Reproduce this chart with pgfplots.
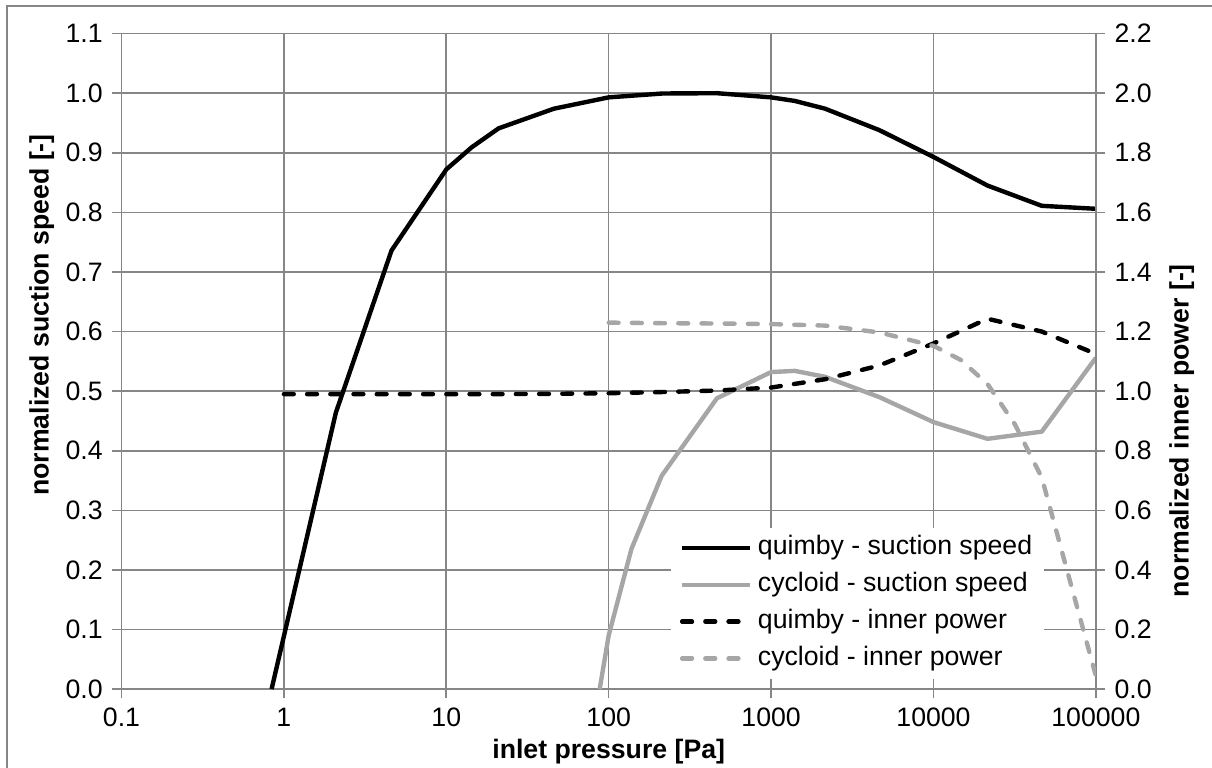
\documentclass[border=0pt]{standalone}
\usepackage{fontspec}
\setmainfont{Liberation Sans}
\usepackage{pgfplots}
\usepackage{pgfplotstable}
\pgfplotsset{compat=1.18}
\definecolor{gridgray}{RGB}{134,134,134}
\definecolor{lgray}{RGB}{166,166,166}

\pgfplotstableread{
x y
0.84 0
2.09 0.464
4.6 0.736
10 0.872
14.3 0.909
21 0.941
46 0.974
100 0.993
215 0.9995
464 1.0
1000 0.993
1400 0.987
2150 0.974
4640 0.938
10000 0.893
21500 0.845
46400 0.811
100000 0.806
}\quimbyS

\pgfplotstableread{
x y
88 0
100 0.09
138 0.235
212 0.358
464 0.488
1000 0.532
1400 0.534
2150 0.524
4640 0.49
10000 0.448
21500 0.42
46400 0.432
100000 0.556
}\cycloidS

\pgfplotstableread{
x y
1 0.99
2.15 0.99
4.64 0.99
10 0.99
21.5 0.99
46.4 0.991
100 0.993
215 0.997
464 1.002
1000 1.012
2150 1.04
4640 1.086
10000 1.16
21500 1.243
46400 1.2
100000 1.125
}\quimbyP

\pgfplotstableread{
x y
100 1.23
215 1.228
464 1.227
1000 1.225
2150 1.22
4640 1.197
10000 1.152
14700 1.105
21500 1.024
31600 0.89
46400 0.71
100000 0.044
}\cycloidP

\begin{document}
\begin{tikzpicture}
\useasboundingbox (-45.56pt,-29.25pt) rectangle (408.94pt,258.4pt);
\begin{axis}[
  scale only axis, width=365.4pt, height=245.8pt,
  xmode=log, xmin=0.1, xmax=100000,
  axis line style={gridgray, line width=0.6pt},
  tick style={gridgray, line width=0.6pt},
  tick align=outside, major tick length=3.5pt,
  minor tick num=0, xminorticks=false,
  /pgf/number format/assume math mode=true,
  yticklabel style={/pgf/number format/fixed,/pgf/number format/fixed zerofill,/pgf/number format/precision=1},
  ymin=0, ymax=1.1,
  ytick={0,0.1,0.2,0.3,0.4,0.5,0.6,0.7,0.8,0.9,1.0,1.1},
  xtick={0.1,1,10,100,1000,10000,100000},
  xticklabels={0.1,1,10,100,1000,10000,100000},
  xtick pos=left, ytick pos=left,
  xmajorgrids, ymajorgrids, major grid style={gridgray, line width=0.6pt},
  xlabel={inlet pressure [Pa]},
  ylabel={normalized suction speed [-]},
  every axis x label/.style={at={(axis description cs:0.5,0)}, yshift=-23.6pt, anchor=center, font=\bfseries},
  every axis y label/.style={at={(axis description cs:-0.0819,0.5706)}, rotate=90, anchor=center, font=\bfseries},
  legend style={at={(axis description cs:0.563,0.247)}, anchor=north west,
    draw=none, fill=white, inner xsep=3.5pt, inner ysep=2pt,
    row sep=2.6pt, column sep=1pt,
    nodes={inner sep=1pt, anchor=west, text height=7.2pt, text depth=2pt}},
  legend image post style={xscale=1.5},
  legend cell align=left,
]
\addplot[black, line width=1.65pt, line join=round] table[x=x,y=y] {\quimbyS};
\addlegendentry{quimby - suction speed}
\addplot[lgray, line width=1.65pt, line join=round] table[x=x,y=y] {\cycloidS};
\addlegendentry{cycloid - suction speed}
\addlegendimage{black, line width=1.65pt, line cap=round, dash pattern=on 3.7pt off 5pt}
\addlegendentry{quimby - inner power}
\addlegendimage{lgray, line width=1.65pt, line cap=round, dash pattern=on 3.7pt off 5pt}
\addlegendentry{cycloid - inner power}
\end{axis}
\begin{axis}[
  scale only axis, width=365.4pt, height=245.8pt,
  xmode=log, xmin=0.1, xmax=100000,
  axis line style={gridgray, line width=0.6pt},
  tick style={gridgray, line width=0.6pt},
  tick align=outside, major tick length=3.5pt,
  minor tick num=0,
  /pgf/number format/assume math mode=true,
  yticklabel style={/pgf/number format/fixed,/pgf/number format/fixed zerofill,/pgf/number format/precision=1},
  ymin=0, ymax=2.2,
  ytick={0,0.2,0.4,0.6,0.8,1.0,1.2,1.4,1.6,1.8,2.0,2.2},
  axis x line=none, axis y line*=right,
  ylabel={normalized inner power [-]},
  every axis y label/.style={at={(axis description cs:1.088,0.394)}, rotate=90, anchor=center, font=\bfseries},
]
\addplot[black, line width=1.65pt, line cap=round, dash pattern=on 3.7pt off 5pt] table[x=x,y=y] {\quimbyP};
\addplot[lgray, line width=1.65pt, line cap=round, dash pattern=on 3.7pt off 5pt] table[x=x,y=y] {\cycloidP};
\end{axis}
\draw[gridgray, line width=0.75pt] (-42.94pt,-29.6pt) -- (-42.94pt,256.1pt) -- (409.5pt,256.1pt);
\end{tikzpicture}
\end{document}
